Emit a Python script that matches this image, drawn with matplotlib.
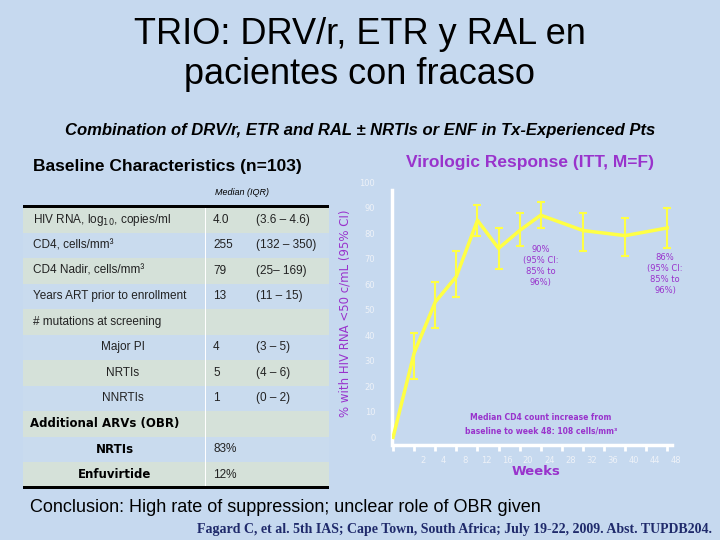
import matplotlib
matplotlib.use("Agg")
import matplotlib.pyplot as plt
from matplotlib.patches import Rectangle

weeks_labels = ["2","4","8","12","16","20","24","28","32","36","40","44","48"]
pt_idx = [0,1,2,3,4,5,6,7,9,11,13]
pt_weeks = [0,2,4,8,12,16,20,24,32,40,48]
resp = [0,33,53,63,85,74,81,87,81,79,82]
ci_lo = [None,23,43,55,79,66,75,82,73,71,74]
ci_hi = [None,41,61,73,91,82,88,92,88,86,90]

rows = [("HIV RNA, log$_{10}$, copies/ml","4.0","(3.6 – 4.6)","l"),
        ("CD4, cells/mm³","255","(132 – 350)","l"),
        ("CD4 Nadir, cells/mm³","79","(25– 169)","l"),
        ("Years ART prior to enrollment","13","(11 – 15)","l"),
        ("# mutations at screening","","","l"),
        ("Major PI","4","(3 – 5)","c"),
        ("NRTIs","5","(4 – 6)","c"),
        ("NNRTIs","1","(0 – 2)","c"),
        ("Additional ARVs (OBR)","","","b"),
        ("NRTIs","83%","","bc"),
        ("Enfuvirtide","12%","","bc")]

BG = "#C6D9EF"
PURPLE = "#9933CC"
YEL = "#FFFF44"
LS = "Liberation Sans"
fig = plt.figure(figsize=(7.2,5.4), dpi=100, facecolor=BG)
W,H = 720,540
def fx(x): return x/W
def fy(y): return 1-y/H

fig.text(0.5, fy(35), "TRIO: DRV/r, ETR y RAL en", ha="center", va="center", fontsize=26, family=LS)
fig.text(0.5, fy(75), "pacientes con fracaso", ha="center", va="center", fontsize=26, family=LS)
fig.text(fx(360), fy(131), "Combination of DRV/r, ETR and RAL ± NRTIs or ENF in Tx-Experienced Pts",
         ha="center", va="center", fontsize=12, weight="bold", style="italic", family=LS)
fig.text(fx(167), fy(167), "Baseline Characteristics (n=103)", ha="center", va="center", fontsize=12.5, weight="bold", family=LS)
fig.text(fx(530), fy(162), "Virologic Response (ITT, M=F)", ha="center", va="center", fontsize=12.5, weight="bold", color=PURPLE, family=LS)
fig.text(fx(30), fy(507), "Conclusion: High rate of suppression; unclear role of OBR given", ha="left", va="center", fontsize=13, family=LS)
fig.text(fx(712), fy(530), "Fagard C, et al. 5th IAS; Cape Town, South Africa; July 19-22, 2009. Abst. TUPDB204.",
         ha="right", va="center", fontsize=10, weight="bold", color="#1F2A6B", family="Liberation Serif")

# table
top, rh = 207, 25.5
x0, x1, x2, x3 = 23, 205, 250, 329
fig.text(fx(242), fy(192), "Median (IQR)", ha="center", va="center", fontsize=6.5, style="italic", family=LS)
for i,(lab,v,iqr,kind) in enumerate(rows):
    yt = top + i*rh
    col = "#D5E1D9" if i%2==0 else "#C9DBEE"
    fig.patches.append(Rectangle((fx(x0), fy(yt+rh)), fx(x3-x0), rh/H, transform=fig.transFigure, facecolor=col, edgecolor="none"))
    fig.patches.append(Rectangle((fx(x1), fy(yt+rh)), 0.001, rh/H, transform=fig.transFigure, facecolor="white", edgecolor="none"))
    yc = fy(yt+rh/2)
    if kind=="l":
        fig.text(fx(33), yc, lab, ha="left", va="center", fontsize=8.5, color="#222222", family=LS)
    elif kind=="c":
        fig.text(fx(123), yc, lab, ha="center", va="center", fontsize=8.5, color="#222222", family=LS)
    elif kind=="b":
        fig.text(fx(30), yc, lab, ha="left", va="center", fontsize=8.5, weight="heavy", family="DejaVu Sans")
    else:
        fig.text(fx(115), yc, lab, ha="center", va="center", fontsize=8.5, weight="heavy", family="DejaVu Sans")
    fig.text(fx(213), yc, v, ha="left", va="center", fontsize=8.5, color="#222222", family=LS)
    fig.text(fx(256), yc, iqr, ha="left", va="center", fontsize=8.5, color="#222222", family=LS)
for yl in (top, top+11*rh):
    fig.patches.append(Rectangle((fx(x0), fy(yl)-0.002), fx(x3-x0), 0.005, transform=fig.transFigure, facecolor="black"))

# chart
ax = fig.add_axes([fx(392), fy(445), fx(680-392), (445-182)/H])
ax.set_facecolor(BG)
ax.set_xlim(-0.05, 13.6)
ax.set_ylim(-3, 100)
for s in ("top","right"): ax.spines[s].set_visible(False)
for s in ("left","bottom"):
    ax.spines[s].set_color("white"); ax.spines[s].set_linewidth(2.5)
ax.spines["bottom"].set_bounds(0, 13.2)
ax.spines["left"].set_bounds(-3, 97)
ax.plot(pt_idx, resp, color=YEL, lw=2.5, zorder=3)
for x,y,lo,hi in zip(pt_idx, resp, ci_lo, ci_hi):
    if lo is not None:
        ax.errorbar([x],[y], yerr=[[y-lo],[hi-y]], color=YEL, lw=1.5, capsize=3, capthick=1.5, zorder=3)
ax.set_yticks(range(0,101,10))
ax.tick_params(axis="y", length=0, labelsize=6, labelcolor="#EEF2F8", pad=12)
ax.set_xticks(range(0,14))
ax.set_xticklabels([""]*14)
ax.tick_params(axis="x", length=4, width=2, color="white", direction="out")
ax.set_xticks([i+0.4 for i in range(1,14)], minor=True)
ax.set_xticklabels(weeks_labels, minor=True)
ax.tick_params(axis="x", which="minor", length=0, labelsize=6, labelcolor="#EEF2F8", pad=8)
ax.set_xlabel("Weeks", color=PURPLE, fontsize=9.5, weight="bold", labelpad=0)
ax.set_ylabel("% with HIV RNA <50 c/mL (95% CI)", color=PURPLE, fontsize=8.5, labelpad=6)
ax.text(7.0, 67, "90%\n(95% CI:\n85% to\n96%)", ha="center", va="center", fontsize=6, color=PURPLE, linespacing=1.3)
ax.text(12.9, 64, "86%\n(95% CI:\n85% to\n96%)", ha="center", va="center", fontsize=6, color=PURPLE, linespacing=1.3)
ax.text(7.0, 5, "Median CD4 count increase from\nbaseline to week 48: 108 cells/mm³", ha="center", va="center",
        fontsize=5.5, color=PURPLE, weight="bold", linespacing=1.6)

fig.savefig("out.png", dpi=100, facecolor=BG)
